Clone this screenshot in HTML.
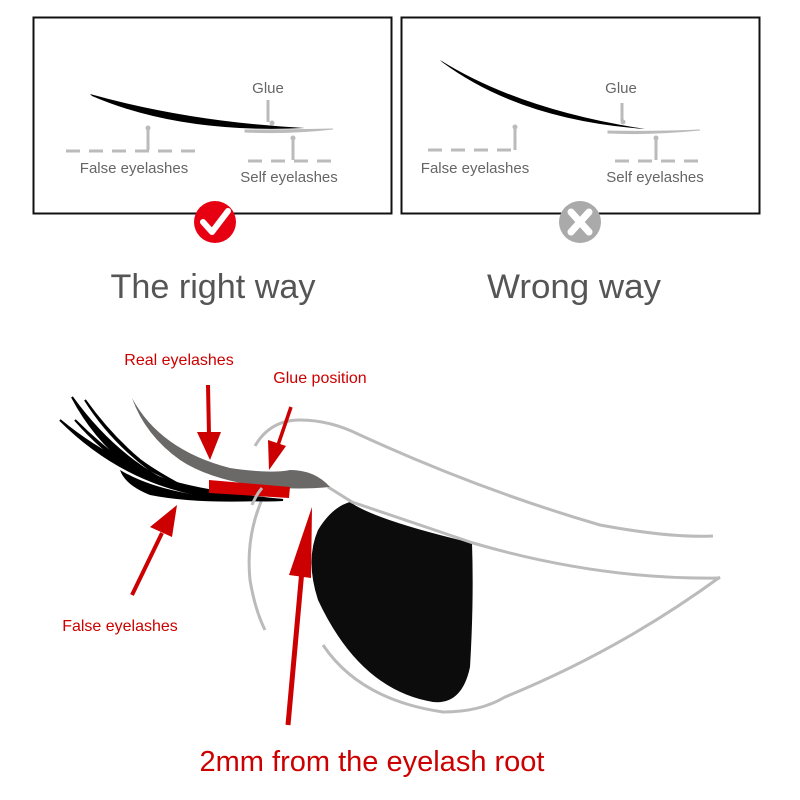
<!DOCTYPE html>
<html><head><meta charset="utf-8"><style>
html,body{margin:0;padding:0;background:#fff}
svg{display:block}
text{font-family:"Liberation Sans",Arial,sans-serif}
</style></head><body>
<svg width="800" height="800" viewBox="0 0 800 800" xmlns="http://www.w3.org/2000/svg">
<rect x="33.5" y="17.5" width="358" height="196" fill="#fff" stroke="#111" stroke-width="2"/>
<rect x="401.5" y="17.5" width="358" height="196" fill="#fff" stroke="#111" stroke-width="2"/>

<!-- Panel 1 -->
<path d="M90,94 Q190,122 305,128 Q180,134 92,96Z" fill="#000"/>
<path d="M245,132 Q290,134 333,129 Q290,130 245,130Z" fill="#bbb" stroke="#bbb" stroke-width="1"/>
<g stroke="#bbb" stroke-width="3" fill="none">
<line x1="268" y1="100" x2="268" y2="122"/>
<line x1="148" y1="128" x2="148" y2="150"/>
<line x1="293" y1="138" x2="293" y2="160"/>
<line x1="66" y1="151" x2="202" y2="151" stroke-dasharray="14,9"/>
<line x1="248" y1="161" x2="333" y2="161" stroke-dasharray="14,9"/>
</g>
<circle cx="272" cy="123" r="2.5" fill="#bbb"/><circle cx="148" cy="128" r="2.5" fill="#bbb"/><circle cx="293" cy="138" r="2.5" fill="#bbb"/>
<text x="268" y="93" font-size="15" fill="#666" text-anchor="middle">Glue</text>
<text x="134" y="173" font-size="15" fill="#666" text-anchor="middle">False eyelashes</text>
<text x="289" y="182" font-size="15" fill="#666" text-anchor="middle">Self eyelashes</text>
<circle cx="215" cy="222" r="21" fill="#e60012"/>
<path d="M203,222 L212,232 L228,211" stroke="#fff" stroke-width="6" fill="none" stroke-linecap="round" stroke-linejoin="round"/>

<!-- Panel 2 -->
<path d="M440,60 Q520,110 645,129 Q520,120 442,62Z" fill="#000"/>
<path d="M608,133 Q650,135 700,130 Q650,132 608,131Z" fill="#bbb" stroke="#bbb" stroke-width="1"/>
<g stroke="#bbb" stroke-width="3" fill="none">
<line x1="622" y1="103" x2="622" y2="121"/>
<line x1="515" y1="127" x2="515" y2="150"/>
<line x1="656" y1="138" x2="656" y2="160"/>
<line x1="428" y1="150" x2="515" y2="150" stroke-dasharray="14,9"/>
<line x1="615" y1="161" x2="700" y2="161" stroke-dasharray="14,9"/>
</g>
<circle cx="623" cy="122" r="2.5" fill="#bbb"/><circle cx="515" cy="127" r="2.5" fill="#bbb"/><circle cx="656" cy="138" r="2.5" fill="#bbb"/>
<text x="621" y="93" font-size="15" fill="#666" text-anchor="middle">Glue</text>
<text x="475" y="173" font-size="15" fill="#666" text-anchor="middle">False eyelashes</text>
<text x="655" y="182" font-size="15" fill="#666" text-anchor="middle">Self eyelashes</text>
<circle cx="580" cy="222" r="21" fill="#aaa"/>
<path d="M571,212 L589,232 M589,212 L571,232" stroke="#fff" stroke-width="7" stroke-linecap="round"/>

<text x="213" y="298" font-size="34" fill="#555" text-anchor="middle" textLength="205" lengthAdjust="spacingAndGlyphs">The right way</text>
<text x="574" y="298" font-size="34" fill="#555" text-anchor="middle" textLength="174" lengthAdjust="spacingAndGlyphs">Wrong way</text>

<!-- Eye -->
<path d="M350,502 Q375,520 472,543 Q474,600 470,667 Q462,705 433,702 Q360,690 318,600 Q305,560 318,530 Q332,507 350,502Z" fill="#0c0c0c"/>
<g stroke="#bbb" stroke-width="3" fill="none">
<path d="M255,446 Q270,420 300,420 Q330,420 360,435 Q480,490 600,525 Q670,538 713,536"/>
<path d="M328,487 L352,502 Q420,525 473,543 Q600,580 720,578"/>
<path d="M323,645 Q360,700 443,712 Q480,712 505,697 Q620,650 720,577"/>
<path d="M268,487 Q245,530 250,580 Q255,610 265,630"/>
</g>
<g fill="#000">
<path d="M60,420 Q120,480 200,495 Q245,502 283,500 Q240,497 200,490 Q120,470 60,420Z" stroke="#000" stroke-width="2"/>
<path d="M72,397 Q100,450 150,480 Q200,498 283,500 Q200,492 160,478 Q110,450 72,397Z" stroke="#000" stroke-width="2"/>
<path d="M85,400 Q110,440 150,470 L200,495 Q160,475 140,460 Q110,435 85,400Z" stroke="#000" stroke-width="2"/>
<path d="M75,420 Q110,460 150,480 Q110,455 75,420Z" stroke="#000" stroke-width="2"/>
<path d="M120,470 Q170,500 270,500 L283,500 Q200,505 150,495 Q125,485 120,470Z"/>
</g>
<path d="M132,398 Q160,450 230,468 Q270,474 290,470 Q315,470 330,487 Q300,490 265,487 Q210,480 180,460 Q145,435 132,398Z" fill="#6b6868"/>
<path d="M209,480 L290,487 L289,498 L209,493Z" fill="#d40000"/>
<path d="M262,488 Q256,495 252,505" stroke="#bbb" stroke-width="3" fill="none"/>
<g fill="#cc0000" stroke="#cc0000">
<line x1="208" y1="385" x2="209" y2="435" stroke-width="4"/>
<path d="M197,432 L221,432 L210,460Z" stroke="none"/>
<line x1="291" y1="407" x2="278" y2="445" stroke-width="3.5"/>
<path d="M268,440 L286,446 L269,470Z" stroke="none"/>
<line x1="132" y1="595" x2="162" y2="533" stroke-width="4"/>
<path d="M150,527 L172,537 L177,505Z" stroke="none"/>
<line x1="288" y1="725" x2="302" y2="570" stroke-width="5"/>
<path d="M289,575 L311,578 L312,507Z" stroke="none"/>
</g>
<text x="179" y="365" font-size="16" fill="#cc0000" text-anchor="middle">Real eyelashes</text>
<text x="320" y="383" font-size="16" fill="#cc0000" text-anchor="middle">Glue position</text>
<text x="120" y="631" font-size="16" fill="#cc0000" text-anchor="middle">False eyelashes</text>
<text x="372" y="771" font-size="29" fill="#cc0000" text-anchor="middle" textLength="345" lengthAdjust="spacingAndGlyphs">2mm from the eyelash root</text>
</svg>
</body></html>
